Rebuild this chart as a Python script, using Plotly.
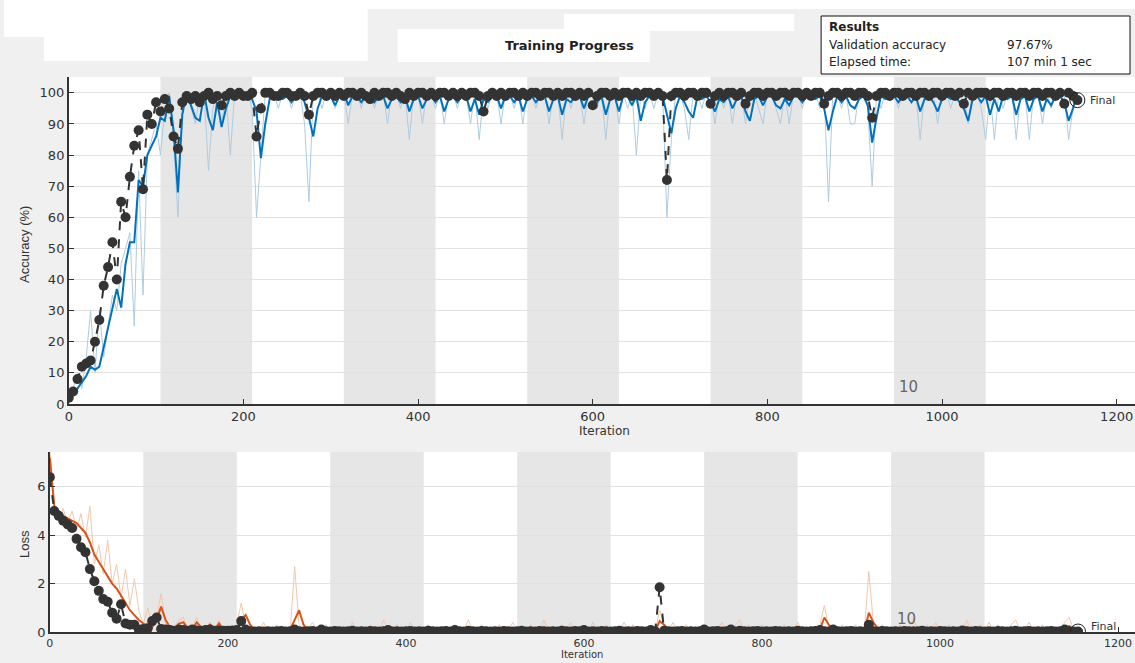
import plotly.graph_objects as go

# ---------------------------------------------------------------
# Training run: one sample every 5 iterations, 11 epochs of 105 it.
# ---------------------------------------------------------------
ITERS_PER_EPOCH = 105
N_EPOCHS = 11
iterations = list(range(0, ITERS_PER_EPOCH * N_EPOCHS + 1, 5))   # 0 .. 1155

train_acc_raw = [
    0, 5, 10, 5, 15, 30, 10, 30, 15, 25,
    35, 30, 45, 50, 55, 25, 75, 35, 80, 85,
    90, 80, 95, 100, 85, 60, 95, 100, 95, 90,
    100, 100, 75, 95, 100, 90, 100, 80, 100, 100,
    100, 100, 95, 60, 80, 100, 100, 100, 95, 100,
    100, 95, 100, 100, 90, 65, 100, 100, 95, 100,
    100, 95, 100, 100, 90, 100, 100, 95, 100, 100,
    95, 100, 100, 90, 100, 100, 95, 100, 85, 100,
    100, 90, 100, 100, 95, 100, 90, 100, 100, 95,
    100, 100, 90, 100, 85, 100, 95, 100, 100, 90,
    100, 100, 95, 100, 90, 100, 100, 95, 100, 100,
    90, 100, 100, 85, 100, 95, 100, 100, 90, 100,
    100, 95, 100, 85, 100, 100, 90, 100, 95, 100,
    80, 100, 95, 100, 95, 100, 100, 60, 85, 100,
    100, 95, 85, 100, 100, 95, 100, 100, 90, 100,
    95, 100, 90, 100, 100, 90, 100, 100, 95, 90,
    100, 100, 95, 90, 100, 90, 100, 100, 95, 100,
    100, 100, 95, 100, 65, 100, 100, 95, 100, 90,
    90, 100, 100, 95, 70, 100, 95, 100, 100, 100,
    95, 100, 100, 100, 100, 85, 100, 100, 100, 90,
    100, 100, 95, 100, 100, 100, 90, 100, 100, 95,
    85, 100, 85, 100, 95, 100, 100, 85, 100, 100,
    85, 100, 100, 90, 100, 95, 100, 100, 100, 85,
    95, 100,
]

train_acc_smooth = [
    1, 3, 5, 7, 9, 12, 11, 12, 18, 25,
    30, 37, 31, 45, 52, 52, 72, 70, 80, 83,
    86, 92, 91, 99, 88, 68, 93, 100, 96, 92,
    91, 100, 92, 88, 97, 89, 95, 99, 98, 100,
    99, 100, 98, 94, 79, 90, 98, 100, 99, 98,
    99, 97, 99, 100, 97, 92, 86, 95, 99, 98,
    99, 96, 99, 100, 96, 99, 99, 97, 99, 100,
    97, 99, 99, 95, 98, 99, 97, 99, 94, 98,
    99, 95, 98, 99, 97, 99, 94, 98, 99, 97,
    99, 99, 94, 98, 93, 98, 97, 99, 99, 95,
    99, 99, 97, 99, 94, 98, 99, 97, 99, 99,
    94, 98, 99, 93, 98, 97, 99, 99, 95, 99,
    99, 97, 99, 93, 98, 99, 94, 99, 99, 96,
    99, 91, 97, 99, 98, 99, 99, 93, 87, 95,
    99, 97, 94, 92, 99, 98, 99, 97, 94, 98,
    97, 99, 95, 98, 99, 94, 91, 98, 99, 96,
    99, 99, 96, 95, 98, 96, 99, 99, 97, 99,
    99, 98, 99, 95, 88, 94, 99, 97, 99, 96,
    95, 98, 99, 96, 84, 92, 99, 98, 99, 99,
    97, 99, 99, 97, 99, 94, 98, 99, 97, 94,
    98, 99, 98, 99, 97, 95, 91, 98, 99, 97,
    99, 93, 98, 94, 99, 98, 99, 93, 98, 99,
    94, 98, 99, 94, 98, 96, 99, 99, 97, 91,
    95, 100,
]

val_acc = [
    2, 4, 8, 12, 13, 14, 20, 27, 38, 44,
    52, 40, 65, 60, 73, 83, 88, 69, 93, 90,
    97, 94, 98, 95, 86, 82, 97, 99, 98, 99,
    97, 99, 100, 98, 99, 96, 99, 100, 99, 100,
    99, 99, 100, 86, 95, 100, 100, 99, 99, 100,
    100, 99, 99, 100, 99, 93, 99, 100, 100, 99,
    100, 99, 100, 99, 100, 100, 99, 100, 99, 98,
    100, 99, 100, 100, 99, 100, 99, 98, 100, 99,
    100, 100, 99, 100, 99, 100, 100, 99, 100, 99,
    100, 99, 100, 100, 99, 94, 99, 100, 99, 100,
    99, 100, 100, 99, 100, 99, 100, 100, 99, 100,
    100, 99, 100, 99, 100, 100, 99, 100, 99, 100,
    96, 99, 100, 100, 99, 100, 99, 100, 100, 99,
    100, 99, 100, 100, 99, 100, 99, 72, 99, 100,
    100, 99, 100, 100, 99, 100, 100, 96.5, 99, 100,
    99, 100, 100, 99, 100, 96.5, 99, 100, 100, 99,
    100, 100, 99, 100, 100, 99, 100, 100, 99, 100,
    99, 100, 100, 96.5, 99, 100, 100, 99, 100, 100,
    99, 100, 100, 99, 92, 99, 100, 100, 99, 100,
    100, 99, 100, 100, 99, 100, 100, 99, 100, 100,
    99, 100, 100, 99, 100, 96.5, 100, 99, 100, 100,
    100, 99, 100, 100, 99, 100, 100, 99, 100, 100,
    99, 100, 100, 99, 100, 100, 99, 100, 96.5, 100,
    99, 97.67,
]

train_loss_raw = [
    7.5, 5.3, 4.6, 5.1, 4.5, 5.0, 4.2, 4.9, 3.9, 5.2,
    2.8, 3.6, 2.4, 3.8, 2.0, 2.8, 1.4, 2.6, 1.1, 2.2,
    0.9, 0.3, 1.0, 0.2, 0.6, 1.6, 0.3, 0.1, 0.2, 0.5,
    0.6, 0.1, 0.2, 0.6, 0.1, 0.05, 0.4, 0.1, 0.5, 0.05,
    0.1, 0.05, 0.3, 1.2, 0.3, 0.05, 0.1, 0.02, 0.4, 0.05,
    0.02, 0.3, 0.05, 0.1, 0.02, 2.7, 0.3, 0.05, 0.1, 0.4,
    0.05, 0.02, 0.3, 0.05, 0.1, 0.02, 0.2, 0.05, 0.4, 0.02,
    0.1, 0.05, 0.3, 0.02, 0.05, 0.5, 0.1, 0.02, 0.3, 0.05,
    0.02, 0.4, 0.05, 0.1, 0.02, 0.3, 0.05, 0.02, 0.2, 0.05,
    0.1, 0.3, 0.02, 0.05, 0.5, 0.1, 0.02, 0.3, 0.05, 0.1,
    0.02, 0.3, 0.05, 0.02, 0.4, 0.05, 0.1, 0.02, 0.3, 0.05,
    0.02, 0.5, 0.05, 0.1, 0.02, 0.3, 0.05, 0.4, 0.02, 0.05,
    0.1, 0.02, 0.4, 0.05, 0.02, 0.3, 0.05, 0.1, 0.02, 0.4,
    0.05, 0.3, 0.02, 0.05, 0.2, 0.05, 0.02, 0.9, 0.3, 0.05,
    0.4, 0.02, 0.05, 0.3, 0.02, 0.1, 0.05, 0.3, 0.02, 0.05,
    0.1, 0.4, 0.02, 0.05, 0.3, 0.5, 0.05, 0.3, 0.02, 0.05,
    0.3, 0.02, 0.05, 0.1, 0.02, 0.3, 0.05, 0.02, 0.4, 0.05,
    0.1, 0.02, 0.05, 0.3, 1.1, 0.2, 0.05, 0.02, 0.3, 0.05,
    0.1, 0.3, 0.02, 0.05, 2.5, 0.4, 0.05, 0.3, 0.02, 0.1,
    0.05, 0.3, 0.02, 0.05, 0.6, 0.05, 0.02, 0.3, 0.05, 0.4,
    0.02, 0.05, 0.3, 0.02, 0.1, 0.05, 0.5, 0.02, 0.05, 0.3,
    0.05, 0.4, 0.02, 0.3, 0.05, 0.02, 0.3, 0.5, 0.05, 0.1,
    0.4, 0.02, 0.05, 0.3, 0.02, 0.1, 0.05, 0.02, 0.4, 0.6,
    0.1, 0.05,
]

train_loss_smooth = [
    7.2, 5.2, 5.0, 4.8, 4.7, 4.6, 4.5, 4.3, 4.1, 3.7,
    3.2, 2.9, 2.6, 2.3, 2.0, 1.8, 1.5, 1.2, 0.9, 0.7,
    0.5, 0.35, 0.25, 0.2, 0.5, 1.05, 0.5, 0.2, 0.15, 0.35,
    0.4, 0.15, 0.1, 0.4, 0.2, 0.1, 0.3, 0.1, 0.35, 0.1,
    0.05, 0.05, 0.1, 0.5, 0.7, 0.3, 0.1, 0.05, 0.15, 0.05,
    0.03, 0.1, 0.05, 0.05, 0.1, 0.5, 0.9, 0.3, 0.1, 0.15,
    0.05, 0.03, 0.1, 0.05, 0.05, 0.03, 0.1, 0.05, 0.15, 0.05,
    0.05, 0.03, 0.1, 0.05, 0.03, 0.2, 0.08, 0.03, 0.1, 0.05,
    0.03, 0.15, 0.05, 0.05, 0.03, 0.1, 0.05, 0.03, 0.08, 0.05,
    0.05, 0.1, 0.05, 0.03, 0.2, 0.08, 0.03, 0.1, 0.05, 0.05,
    0.03, 0.1, 0.05, 0.03, 0.15, 0.05, 0.05, 0.03, 0.1, 0.05,
    0.03, 0.2, 0.08, 0.05, 0.03, 0.1, 0.05, 0.15, 0.05, 0.03,
    0.05, 0.03, 0.15, 0.05, 0.03, 0.1, 0.05, 0.05, 0.03, 0.15,
    0.05, 0.1, 0.05, 0.03, 0.08, 0.05, 0.03, 0.45, 0.3, 0.1,
    0.15, 0.05, 0.03, 0.1, 0.05, 0.05, 0.03, 0.1, 0.05, 0.03,
    0.05, 0.15, 0.05, 0.03, 0.1, 0.2, 0.08, 0.1, 0.03, 0.05,
    0.1, 0.03, 0.05, 0.05, 0.03, 0.1, 0.05, 0.03, 0.15, 0.05,
    0.05, 0.03, 0.05, 0.1, 0.6, 0.3, 0.1, 0.05, 0.1, 0.05,
    0.05, 0.1, 0.05, 0.03, 0.8, 0.4, 0.15, 0.1, 0.05, 0.05,
    0.03, 0.1, 0.05, 0.03, 0.2, 0.1, 0.03, 0.1, 0.05, 0.15,
    0.05, 0.03, 0.1, 0.05, 0.05, 0.03, 0.2, 0.08, 0.03, 0.1,
    0.05, 0.15, 0.05, 0.1, 0.05, 0.03, 0.1, 0.2, 0.05, 0.05,
    0.15, 0.05, 0.03, 0.1, 0.05, 0.05, 0.03, 0.05, 0.15, 0.25,
    0.1, 0.05,
]

val_loss = [
    6.4, 5.0, 4.8, 4.6, 4.45, 4.3, 3.85, 3.5, 3.3, 2.6,
    2.1, 1.7, 1.36, 1.25, 0.8, 0.55, 1.15, 0.35, 0.3, 0.3,
    0.1, 0.12, 0.15, 0.45, 0.6, 0.12, 0.1, 0.08, 0.05, 0.1,
    0.08, 0.05, 0.1, 0.06, 0.05, 0.08, 0.1, 0.05, 0.06, 0.05,
    0.05, 0.06, 0.08, 0.45, 0.1, 0.03, 0.02, 0.03, 0.02, 0.03,
    0.02, 0.03, 0.04, 0.02, 0.03, 0.1, 0.03, 0.02, 0.03, 0.04,
    0.02, 0.1, 0.03, 0.02, 0.04, 0.03, 0.02, 0.03, 0.05, 0.02,
    0.03, 0.02, 0.04, 0.03, 0.02, 0.03, 0.08, 0.02, 0.03, 0.02,
    0.03, 0.04, 0.02, 0.03, 0.02, 0.05, 0.03, 0.02, 0.03, 0.04,
    0.02, 0.08, 0.03, 0.02, 0.05, 0.03, 0.02, 0.04, 0.03, 0.02,
    0.03, 0.02, 0.04, 0.03, 0.02, 0.03, 0.05, 0.02, 0.03, 0.02,
    0.04, 0.03, 0.02, 0.03, 0.02, 0.05, 0.03, 0.02, 0.04, 0.03,
    0.08, 0.02, 0.03, 0.02, 0.04, 0.03, 0.02, 0.03, 0.05, 0.02,
    0.03, 0.02, 0.04, 0.03, 0.02, 0.08, 0.03, 1.85, 0.05, 0.03,
    0.02, 0.03, 0.04, 0.02, 0.03, 0.02, 0.03, 0.1, 0.02, 0.03,
    0.04, 0.02, 0.03, 0.1, 0.02, 0.05, 0.03, 0.02, 0.03, 0.04,
    0.02, 0.03, 0.02, 0.04, 0.03, 0.02, 0.03, 0.02, 0.05, 0.03,
    0.02, 0.03, 0.04, 0.08, 0.03, 0.02, 0.1, 0.03, 0.02, 0.03,
    0.04, 0.02, 0.03, 0.02, 0.3, 0.03, 0.02, 0.04, 0.03, 0.02,
    0.03, 0.02, 0.04, 0.03, 0.02, 0.03, 0.05, 0.02, 0.03, 0.02,
    0.04, 0.03, 0.02, 0.03, 0.02, 0.06, 0.03, 0.02, 0.04, 0.03,
    0.02, 0.03, 0.02, 0.04, 0.03, 0.02, 0.03, 0.05, 0.02, 0.03,
    0.04, 0.02, 0.03, 0.02, 0.03, 0.04, 0.02, 0.03, 0.1, 0.03,
    0.02, 0.02,
]

y_acc_ticks = [0, 10, 20, 30, 40, 50, 60, 70, 80, 90, 100]
y_loss_ticks = [0, 2, 4, 6]
x_ticks = [0, 200, 400, 600, 800, 1000, 1200]

results_rows = [("Validation accuracy", "97.67%"), ("Elapsed time:", "107 min 1 sec")]

# ---------------------------------------------------------------
W, H = 1135, 663
H_DRAWN = 655   # vertical extent the page actually gives the figure


def fx(px):
    return px / W


def fy(py):
    return 1 - (py - 1) / H_DRAWN


BLUE = "#0072BD"
BLUE_RAW = "#aecbe0"
ORANGE = "#D95319"
ORANGE_RAW = "#f3c6ab"
VAL = "#333333"
FONT = "Liberation Sans, Arial, sans-serif"
WIDE = "DejaVu Sans, Verdana, sans-serif"

fig = go.Figure()

# accuracy panel
fig.add_trace(go.Scatter(x=iterations, y=train_acc_raw, mode="lines",
                         line=dict(color=BLUE_RAW, width=1), xaxis="x", yaxis="y"))
fig.add_trace(go.Scatter(x=iterations, y=train_acc_smooth, mode="lines",
                         line=dict(color=BLUE, width=2), xaxis="x", yaxis="y"))
fig.add_trace(go.Scatter(x=iterations, y=val_acc, mode="lines+markers",
                         line=dict(color=VAL, width=2, dash="dash"),
                         marker=dict(color=VAL, size=10), xaxis="x", yaxis="y"))
fig.add_trace(go.Scatter(x=[iterations[-1]], y=[val_acc[-1]], mode="markers",
                         marker=dict(color="rgba(0,0,0,0)", size=15,
                                     line=dict(color="#222222", width=1)),
                         xaxis="x", yaxis="y"))

# loss panel
fig.add_trace(go.Scatter(x=iterations, y=train_loss_raw, mode="lines",
                         line=dict(color=ORANGE_RAW, width=1), xaxis="x2", yaxis="y2"))
fig.add_trace(go.Scatter(x=iterations, y=train_loss_smooth, mode="lines",
                         line=dict(color=ORANGE, width=2), xaxis="x2", yaxis="y2"))
fig.add_trace(go.Scatter(x=iterations, y=val_loss, mode="lines+markers",
                         line=dict(color=VAL, width=2, dash="dash"),
                         marker=dict(color=VAL, size=10), xaxis="x2", yaxis="y2"))
fig.add_trace(go.Scatter(x=[iterations[-1]], y=[val_loss[-1]], mode="markers",
                         marker=dict(color="rgba(0,0,0,0)", size=15,
                                     line=dict(color="#222222", width=1)),
                         xaxis="x2", yaxis="y2"))

shapes = []
# page patches around the header
for x0, y0, x1, y1 in [(0, 0, W, 10), (0, 0, 365, 38), (40, 38, 365, 62),
                       (395, 30, 648, 63), (562, 15, 793, 32)]:
    shapes.append(dict(type="rect", xref="paper", yref="paper",
                       x0=fx(x0), x1=fx(x1), y0=fy(y1), y1=fy(y0),
                       fillcolor="white", line=dict(width=0), layer="below"))

# shaded even epochs
for ax in ("x", "x2"):
    ydom = "y domain" if ax == "x" else "y2 domain"
    for ep in range(1, N_EPOCHS, 2):
        shapes.append(dict(type="rect", xref=ax, yref=ydom,
                           x0=ep * ITERS_PER_EPOCH, x1=(ep + 1) * ITERS_PER_EPOCH,
                           y0=0, y1=1, fillcolor="#e6e6e6",
                           line=dict(width=0), layer="below"))

# results box
shapes.append(dict(type="rect", xref="paper", yref="paper",
                   x0=fx(820), x1=fx(1130), y0=fy(75), y1=fy(17),
                   fillcolor="white", line=dict(color="#111111", width=1)))


def page_text(text, x, y, size=11, color="#222", xanchor="center", angle=0, family=FONT):
    return dict(text=text, x=fx(x), y=fy(y), xref="paper", yref="paper",
                xanchor=xanchor, yanchor="middle", textangle=angle, showarrow=False,
                font=dict(family=family, size=size, color=color))


annotations = [
    page_text("<b>Training Progress</b>", 567, 46, size=13, family=WIDE),
    page_text("<b>Results</b>", 826, 28, size=12, xanchor="left", family=WIDE),
]
for i, (lab, val) in enumerate(results_rows):
    annotations.append(page_text(lab, 826, 46 + 17 * i, size=12, xanchor="left", family=WIDE))
    annotations.append(page_text(val, 1005, 46 + 17 * i, size=12, xanchor="left", family=WIDE))

annotations += [
    page_text("Accuracy (%)", 20, 245, size=13, color="#333", angle=-90),
    page_text("Loss", 20, 545, size=13, color="#333", angle=-90),
    page_text("Iteration", 603, 432, size=12, color="#333", family=WIDE),
    page_text("Iteration", 580, 655, size=10, color="#333", family=WIDE),
    dict(text="Final", x=iterations[-1] + 12, y=val_acc[-1], xref="x", yref="y",
         xanchor="left", yanchor="middle", showarrow=False,
         font=dict(family=WIDE, size=11, color="#333")),
    dict(text="Final", x=iterations[-1] + 12, y=val_loss[-1] + 0.2, xref="x2", yref="y2",
         xanchor="left", yanchor="middle", showarrow=False,
         font=dict(family=WIDE, size=11, color="#333")),
    dict(text="10", x=962, y=5.5, xref="x", yref="y", showarrow=False,
         yanchor="middle", font=dict(family=WIDE, size=15, color="#666")),
    dict(text="10", x=962, y=0.55, xref="x2", yref="y2", showarrow=False,
         yanchor="middle", font=dict(family=WIDE, size=15, color="#666")),
]

axis_common = dict(showline=True, linecolor="#333333", linewidth=1.5,
                   ticks="inside", ticklen=5, tickcolor="#333333",
                   zeroline=False, fixedrange=True)
tick_font = dict(family=WIDE, size=13, color="#333")
tick_font_small = dict(family=WIDE, size=11, color="#333")

fig.update_layout(
    width=W, height=H, margin=dict(l=0, r=0, t=0, b=0),
    paper_bgcolor="#f0f0f0", plot_bgcolor="white", showlegend=False,
    xaxis=dict(domain=[fx(65), 1], range=[0, 1221], tickvals=x_ticks,
               anchor="y", showgrid=False, tickfont=tick_font, **axis_common),
    yaxis=dict(domain=[fy(405), fy(78)], range=[0, 105.1], tickvals=y_acc_ticks,
               anchor="x", showgrid=True, gridcolor="#e2e2e2", tickfont=tick_font,
               **axis_common),
    xaxis2=dict(domain=[fx(46), 1], range=[0, 1219], tickvals=x_ticks,
                anchor="y2", showgrid=False, tickfont=tick_font_small, **axis_common),
    yaxis2=dict(domain=[fy(633), fy(453)], range=[0, 7.44], tickvals=y_loss_ticks,
                anchor="x2", showgrid=True, gridcolor="#e2e2e2", tickfont=tick_font,
                **axis_common),
    shapes=shapes, annotations=annotations,
)

fig.write_html("out.html")
